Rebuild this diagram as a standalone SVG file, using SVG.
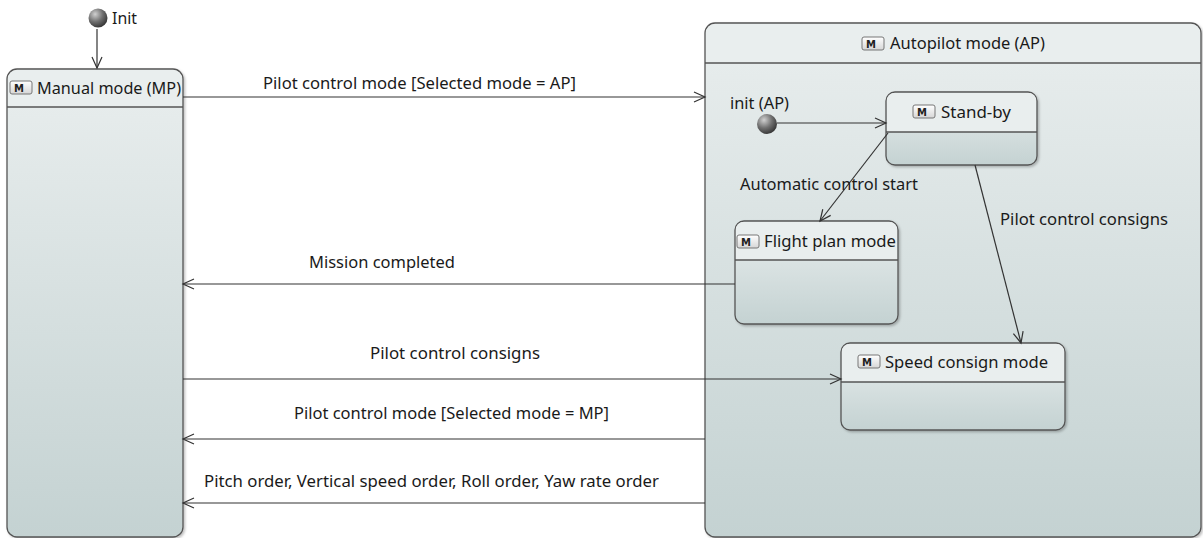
<svg xmlns="http://www.w3.org/2000/svg" width="1203" height="538" viewBox="0 0 1203 538">
<defs>
<linearGradient id="body" x1="0" y1="0" x2="0" y2="1">
<stop offset="0" stop-color="#e9eeee"/>
<stop offset="1" stop-color="#c4d2d2"/>
</linearGradient>
<linearGradient id="icg" x1="0" y1="0" x2="0" y2="1">
<stop offset="0" stop-color="#ffffff"/>
<stop offset="1" stop-color="#d6d6d6"/>
</linearGradient>
<radialGradient id="ball" cx="0.35" cy="0.3" r="0.8">
<stop offset="0" stop-color="#d0d0d0"/>
<stop offset="0.5" stop-color="#707070"/>
<stop offset="1" stop-color="#2a2a2a"/>
</radialGradient>
<marker id="arr" markerWidth="14" markerHeight="14" refX="12" refY="7" orient="auto" markerUnits="userSpaceOnUse">
<path d="M1,2 L12,7 L1,12" fill="none" stroke="#333" stroke-width="1.2"/>
</marker>
<filter id="sh" x="-5%" y="-5%" width="115%" height="115%">
<feDropShadow dx="1.5" dy="1.5" stdDeviation="1" flood-color="#000" flood-opacity="0.25"/>
</filter>
</defs>
<style>
text{font-family:"Noto Sans","DejaVu Sans",sans-serif;font-size:16px;fill:#1a1a1a}
.box{fill:url(#body);stroke:#555;stroke-width:1.3;filter:url(#sh)}
.hdr{fill:#e9eeee}
.sep{stroke:#555;stroke-width:1.3}
.ic{fill:url(#icg);stroke:#777;stroke-width:1}
text.icT{font-family:"DejaVu Sans",sans-serif;font-size:10px;font-weight:bold;fill:#222}
.edge{fill:none;stroke:#333;stroke-width:1.2;marker-end:url(#arr)}
</style>
<rect width="1203" height="538" fill="#ffffff"/>

<g id="autopilot">
<rect class="box" x="705" y="23" width="496" height="514" rx="10"/>
<path class="hdr" d="M706,63 V33 a9,9 0 0 1 9,-9 H1191 a9,9 0 0 1 9,9 V63 Z"/>
<line class="sep" x1="705" y1="63" x2="1201" y2="63"/>
<rect class="ic" x="862" y="37" width="22" height="13" rx="2"/><text class="icT" x="866" y="47.5">M</text>
<text x="890" y="49" textLength="155" lengthAdjust="spacingAndGlyphs">Autopilot mode (AP)</text>
</g>

<g id="manual">
<rect class="box" x="7" y="69" width="176" height="468" rx="10"/>
<path class="hdr" d="M8,107 V79 a9,9 0 0 1 9,-9 H173 a9,9 0 0 1 9,9 V107 Z"/>
<line class="sep" x1="7" y1="107" x2="183" y2="107"/>
<rect class="ic" x="10" y="81" width="22" height="13" rx="2"/><text class="icT" x="14" y="91.5">M</text>
<text x="37" y="94" textLength="144" lengthAdjust="spacingAndGlyphs">Manual mode (MP)</text>
</g>

<g id="init">
<circle cx="98" cy="18" r="9.5" fill="url(#ball)"/>
<text x="112" y="24" textLength="25" lengthAdjust="spacingAndGlyphs">Init</text>
</g>

<g id="initAP">
<circle cx="767" cy="124" r="10" fill="url(#ball)"/>
<text x="730" y="109" textLength="59" lengthAdjust="spacingAndGlyphs">init (AP)</text>
</g>

<g id="standby">
<rect class="box" x="886" y="92" width="151" height="73" rx="9"/>
<path class="hdr" d="M887,132 V101 a8,8 0 0 1 8,-8 H1028 a8,8 0 0 1 8,8 V132 Z"/>
<line class="sep" x1="886" y1="132" x2="1037" y2="132"/>
<rect class="ic" x="913" y="105" width="22" height="13" rx="2"/><text class="icT" x="917" y="115.5">M</text>
<text x="941" y="118" textLength="70" lengthAdjust="spacingAndGlyphs">Stand-by</text>
</g>

<g id="flightplan">
<rect class="box" x="735" y="221" width="163" height="103" rx="9"/>
<path class="hdr" d="M736,260 V230 a8,8 0 0 1 8,-8 H889 a8,8 0 0 1 8,8 V260 Z"/>
<line class="sep" x1="735" y1="260" x2="898" y2="260"/>
<rect class="ic" x="737" y="235" width="22" height="13" rx="2"/><text class="icT" x="741" y="245.5">M</text>
<text x="764" y="247" textLength="132" lengthAdjust="spacingAndGlyphs">Flight plan mode</text>
</g>

<g id="speed">
<rect class="box" x="841" y="343" width="224" height="87" rx="9"/>
<path class="hdr" d="M842,382 V352 a8,8 0 0 1 8,-8 H1056 a8,8 0 0 1 8,8 V382 Z"/>
<line class="sep" x1="841" y1="382" x2="1065" y2="382"/>
<rect class="ic" x="858" y="355" width="22" height="13" rx="2"/><text class="icT" x="862" y="365.5">M</text>
<text x="885" y="368" textLength="163" lengthAdjust="spacingAndGlyphs">Speed consign mode</text>
</g>

<g id="connectors">
<path class="edge" d="M97,29 V68"/>
<path class="edge" d="M183,97 H705"/>
<path class="edge" d="M777,123 H886"/>
<path class="edge" d="M888,133 L820,221"/>
<path class="edge" d="M975,165 L1021,343"/>
<path class="edge" d="M735,284 H183"/>
<path class="edge" d="M183,379 H841"/>
<path class="edge" d="M705,439 H183"/>
<path class="edge" d="M705,503 H183"/>
<text x="263" y="89" textLength="313" lengthAdjust="spacingAndGlyphs">Pilot control mode [Selected mode = AP]</text>
<text x="740" y="190" textLength="178" lengthAdjust="spacingAndGlyphs">Automatic control start</text>
<text x="1000" y="225" textLength="168" lengthAdjust="spacingAndGlyphs">Pilot control consigns</text>
<text x="309" y="268" textLength="146" lengthAdjust="spacingAndGlyphs">Mission completed</text>
<text x="370" y="359" textLength="170" lengthAdjust="spacingAndGlyphs">Pilot control consigns</text>
<text x="294" y="419" textLength="315" lengthAdjust="spacingAndGlyphs">Pilot control mode [Selected mode = MP]</text>
<text x="204" y="487" textLength="455" lengthAdjust="spacingAndGlyphs">Pitch order, Vertical speed order, Roll order, Yaw rate order</text>
</g>
</svg>
